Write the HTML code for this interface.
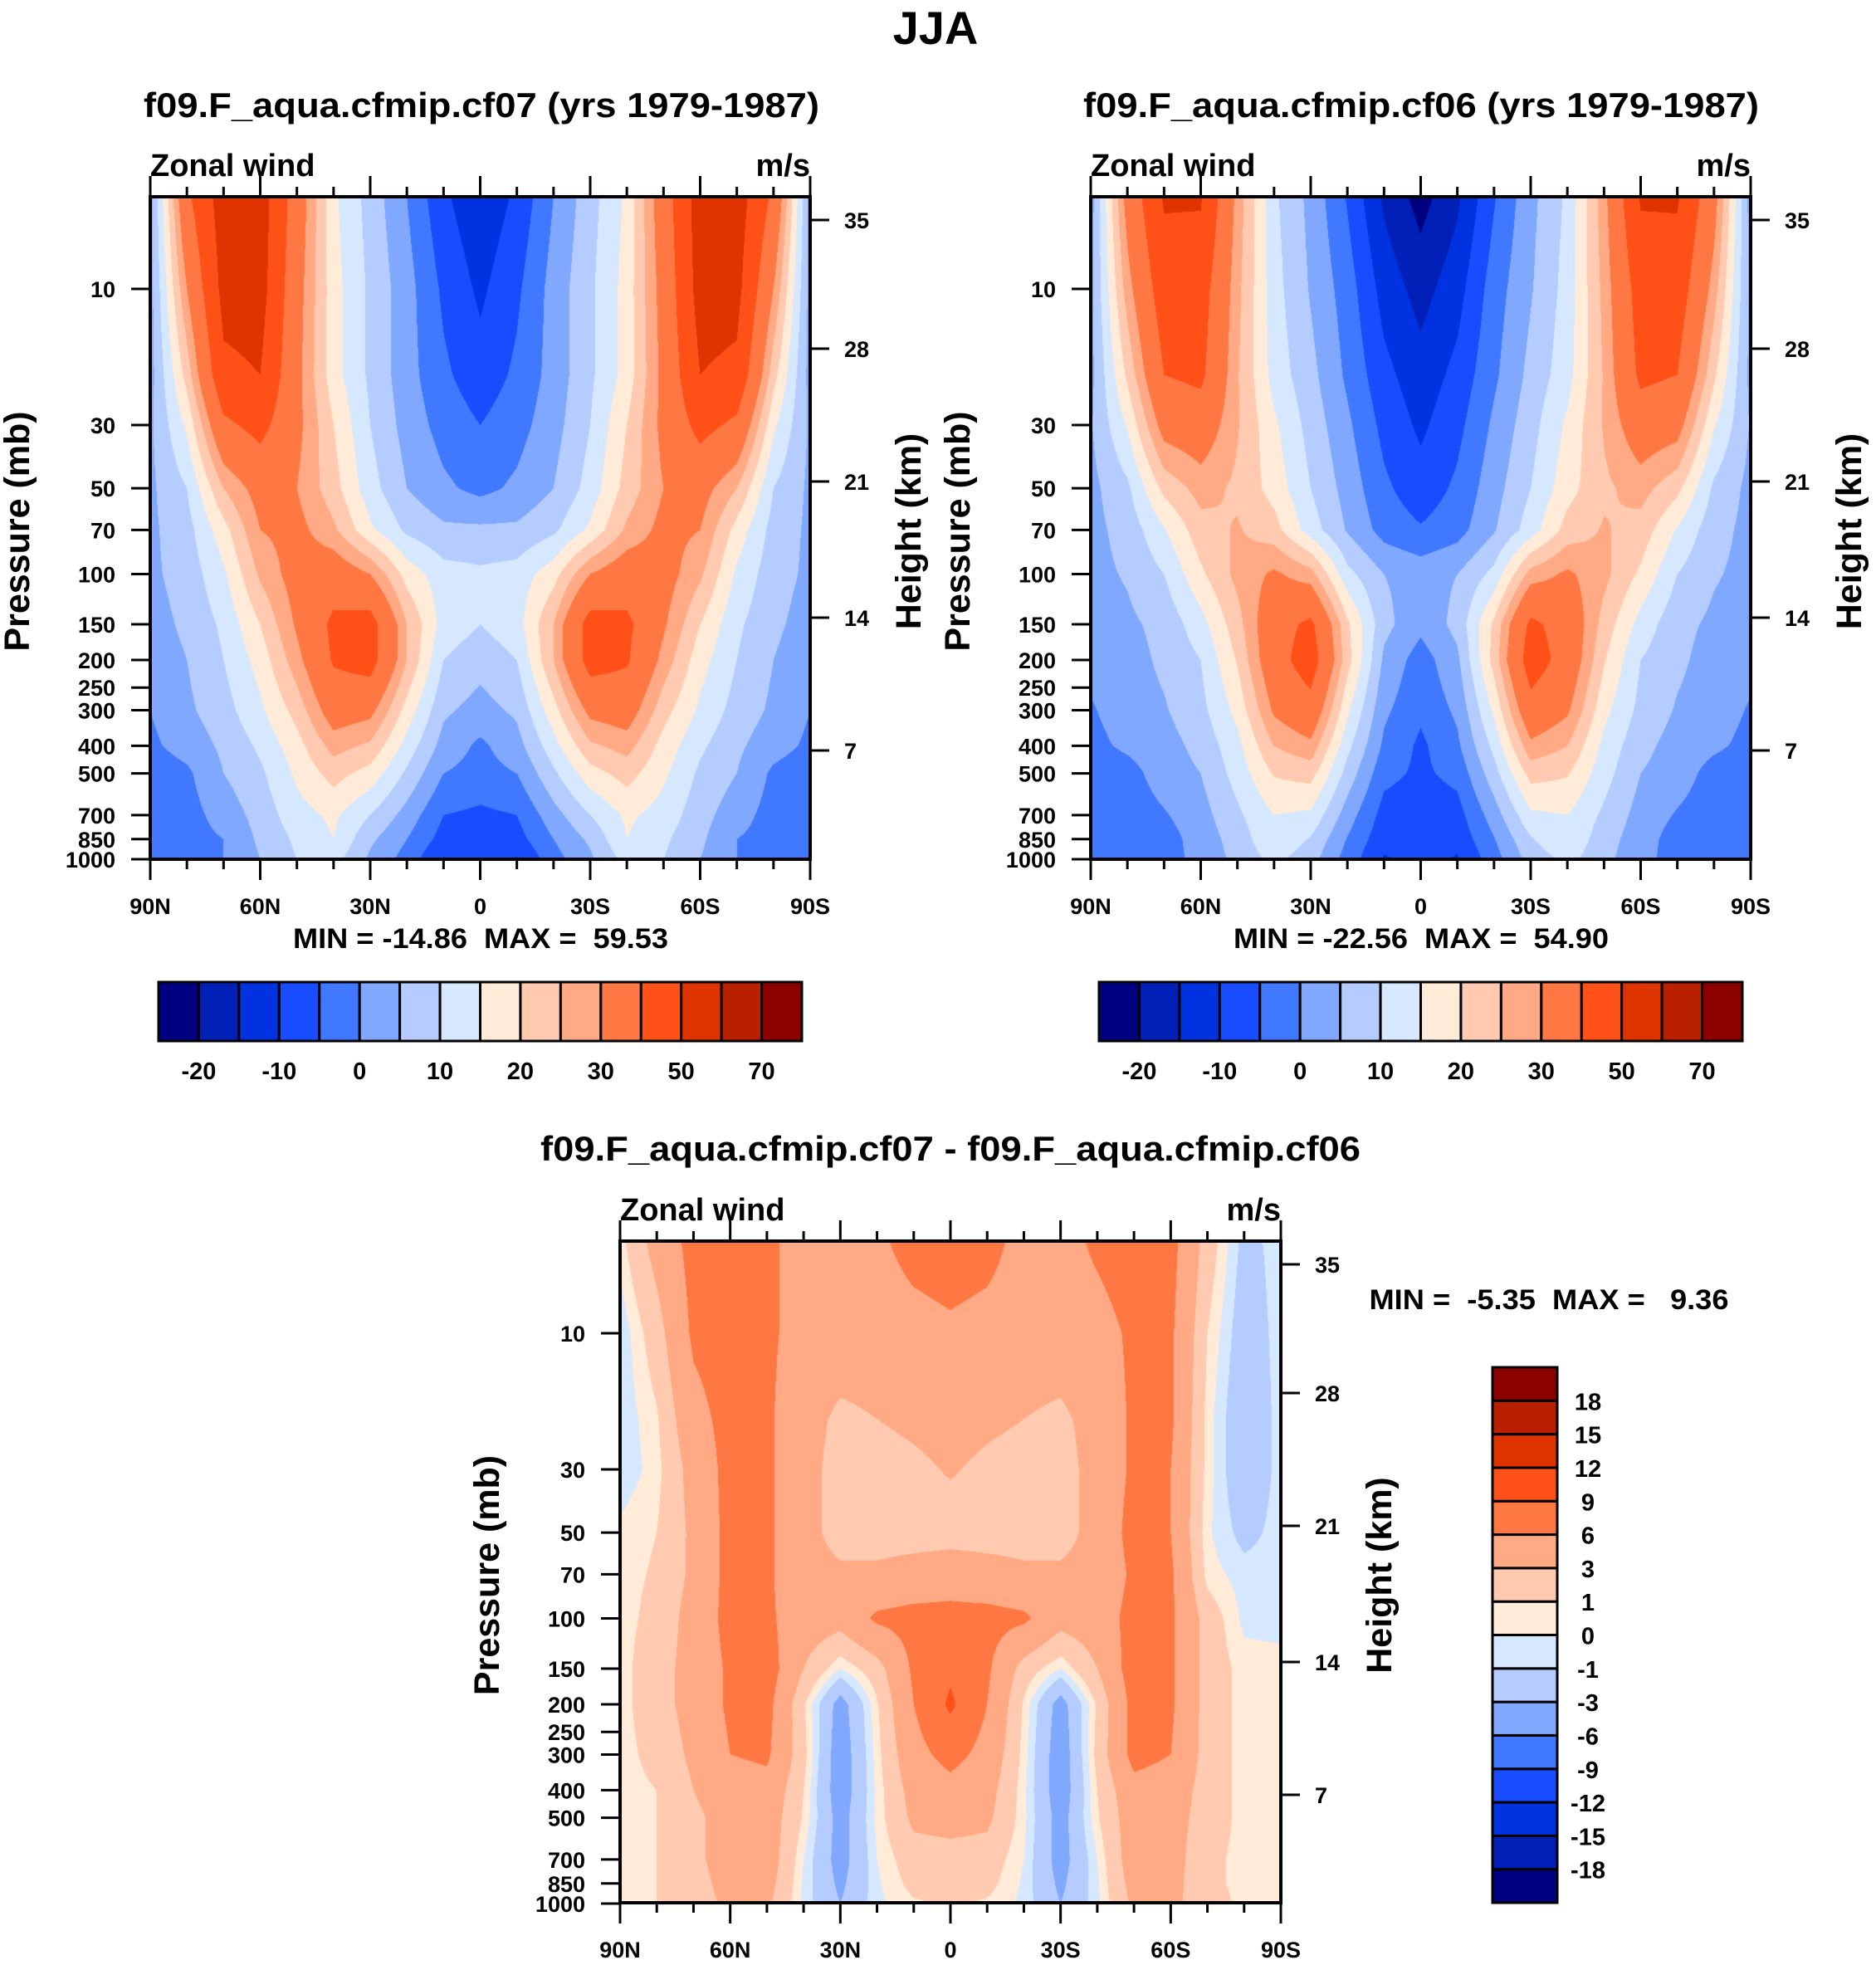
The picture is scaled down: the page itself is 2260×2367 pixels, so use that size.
<!DOCTYPE html>
<html><head><meta charset="utf-8"><style>
html,body{margin:0;padding:0;background:#fff;}
#root{position:relative;width:2260px;height:2367px;overflow:hidden;background:#fff;font-family:"Liberation Sans",Arial,sans-serif;}
canvas{position:absolute;}
svg{position:absolute;left:0;top:0;}
svg text{white-space:pre;}
</style></head><body>
<div id="root">
<canvas id="c1" style="left:181px;top:237px" width="795" height="798"></canvas>
<canvas id="c2" style="left:1314px;top:237px" width="795" height="798"></canvas>
<canvas id="c3" style="left:747px;top:1495px" width="796" height="797"></canvas>
<svg id="ov" width="2260" height="2367" font-family="Liberation Sans, Arial, sans-serif" font-weight="bold">
<text x="1127" y="53" font-size="56" text-anchor="middle">JJA</text>
<text x="580" y="141" font-size="42" text-anchor="middle" textLength="814" lengthAdjust="spacingAndGlyphs">f09.F_aqua.cfmip.cf07 (yrs 1979-1987)</text>
<text x="1712" y="141" font-size="42" text-anchor="middle" textLength="814" lengthAdjust="spacingAndGlyphs">f09.F_aqua.cfmip.cf06 (yrs 1979-1987)</text>
<text x="1145" y="1398" font-size="42" text-anchor="middle" textLength="988" lengthAdjust="spacingAndGlyphs">f09.F_aqua.cfmip.cf07 - f09.F_aqua.cfmip.cf06</text>
<text x="579" y="1142" font-size="34" text-anchor="middle" textLength="452" lengthAdjust="spacingAndGlyphs" xml:space="preserve">MIN = -14.86  MAX =  59.53</text>
<text x="1712" y="1142" font-size="34" text-anchor="middle" textLength="452" lengthAdjust="spacingAndGlyphs" xml:space="preserve">MIN = -22.56  MAX =  54.90</text>
<text x="1866" y="1577" font-size="34" text-anchor="middle" textLength="433" lengthAdjust="spacingAndGlyphs" xml:space="preserve">MIN =  -5.35  MAX =   9.36</text>
</svg>
</div>
<script>
const lats=[90,80,70,60,50,40,30,20,10,0,-10,-20,-30,-40,-50,-60,-70,-80,-90];
const plevs=[4.75,10,20,30,50,70,100,150,200,300,400,500,700,850,1000];
const cf07=[
[3,38,55,55,35,16,8,0,-9,-14,-9,0,8,16,35,55,55,38,3],
[3,30,53,54,33,17,9,2,-6,-11,-6,2,9,17,33,54,53,30,3],
[3,22,48,50,32,17,9,2,-4,-8,-4,2,9,17,32,50,48,22,3],
[4,16,38,43,32,20,10,3,-2,-5,-2,3,10,20,32,43,38,16,4],
[4,10,25,33,30,22,12,5,1,-1.5,1,5,12,22,30,33,25,10,4],
[4,8,18,30,32,26,16,9,6,6,6,9,16,26,32,30,18,8,4],
[4,7,14,26,33,35,30,18,12,11,12,18,30,35,33,26,14,7,4],
[3,6,11,20,31,42,44,25,13,10,13,25,44,42,31,20,11,6,3],
[2,5,10,17,28,41,44,25,10,7,10,25,44,41,28,17,10,5,2],
[0,4,8,14,22,34,32,18,6,3,6,18,32,34,22,14,8,4,0],
[-1,2,6,11,18,27,24,13,3,-1,3,13,24,27,18,11,6,2,-1],
[-3,-1,5,9,16,22,18,9,0,-2,0,9,18,22,16,9,5,-1,-3],
[-3,-2,2,7,13,16,10,3,-5,-6,-5,3,10,16,13,7,2,-2,-3],
[-3,-2,0,6,11,15,6,0,-7,-7,-7,0,6,15,11,6,0,-2,-3],
[-3,-3,0,5,10,12,4,-2,-10.5,-7,-10.5,-2,4,12,10,5,0,-3,-3]];
const cf06=[
[2.5,33,51,51,28,11,3.5,-5.5,-16,-22,-16,-5.5,3.5,11,28,51,51,33,2.5],
[3.5,27.5,45.5,44.5,26.5,12,4.5,-2.5,-12,-17,-12,-2.5,4.5,12,26.5,44.5,45.5,27.5,3.5],
[3.5,21,40,42,25.5,13,6.5,-1,-8.5,-13,-8.5,-1,6.5,13,25.5,42,40,21,3.5],
[4.5,15.5,33,35,25.5,16,8,1,-6.5,-11,-6.5,1,8,16,25.5,35,33,15.5,4.5],
[3.5,9,21.5,27,24,18,10,3,-4,-8,-4,3,10,18,24,27,21.5,9,3.5],
[3.5,6.8,14.5,23,25.5,22,12.5,4.5,-2,-4.5,-2,4.5,12.5,22,25.5,23,14.5,6.8,3.5],
[3.5,5.5,10,19,26.5,31,27,11.5,5,3,5,11.5,27,31,26.5,19,10,5.5,3.5],
[2.5,4,6.5,13,23,36,42,21,6.5,1.5,6.5,21,42,36,23,13,6.5,4,2.5],
[1.5,3,6,10,20.5,36,45,22,4,-2.5,4,22,45,36,20.5,10,6,3,1.5],
[-0.5,2.5,4.5,8.5,16.5,31,36.5,16,1,-4,1,16,36.5,31,16.5,8.5,4.5,2.5,-0.5],
[-1.5,1,3,6.5,13.5,25,28.5,11.5,-1,-6,-1,11.5,28.5,25,13.5,6.5,3,1,-1.5],
[-3.5,-2,2.5,5,12,20.5,22,8,-3.5,-6,-3.5,8,22,20.5,12,5,2.5,-2,-3.5],
[-3.5,-3,-0.5,3,9,15,14,2.5,-7,-8,-7,2.5,14,15,9,3,-0.5,-3,-3.5],
[-3.5,-3,-2.2,2.2,7.2,14.2,9.5,-0.3,-8.5,-8.5,-8.5,-0.3,9.5,14.2,7.2,2.2,-2.2,-3,-3.5],
[-3.5,-4,-2,1.5,6.5,11.5,7,-2.2,-10.5,-8.2,-10.5,-2.2,7,11.5,6.5,1.5,-2,-4,-3.5]];
const diff=[
[0.5,4,7,7.5,6.5,5,4.5,5.5,7,7.5,7,5,5,6.5,7.5,7,2,-1.5,-0.5],
[-0.8,2,6.5,7.5,6.5,5,4.5,4.5,5,5.5,5,4.5,4.5,5,6.5,6.5,1,-2,-0.5],
[-0.8,0.8,5,7,6.5,4,2.5,3,3.5,4,3.5,3,2.5,4,6.5,6.5,0.5,-2.5,-0.5],
[-0.8,0.5,4,7,6.5,4,2,2,2.5,3.2,2.5,2,2,4,6.5,6,0.5,-2.5,-0.5],
[0.3,1,3.5,7,6.5,4,2,2,2,2,2,2,2,4,7,6,0.2,-1.5,-0.5],
[0.5,1.2,3.5,7,6.5,4,3.5,3.5,4,4.5,4,3.5,3.5,4,6.5,6.5,0.5,-0.5,-0.5],
[0.5,1.5,4,7,6.5,4.5,4,6.5,7,7,7,6.5,4,4.5,7,6.5,2,-0.3,-0.5],
[0.5,2,4,6.5,7.5,3,0,2,6.5,8.5,6.5,2,0,3,7.5,6.5,2,0.5,0.5],
[0.5,2,4,6.5,7,1.2,-4,0.8,6,9.5,6,0.8,-4,1.2,7,6.5,2,0.5,0.5],
[0.5,1.5,3.5,6,6.5,1.5,-4.5,0.5,5,7,5,0.5,-4.5,1.5,7,6,2,0.5,0.5],
[0.5,1,3,4.5,5,1,-4.5,0.3,4,5,4,0.3,-4.5,1,5,4.5,2,0.5,0.5],
[0.5,1,2.5,4,4.5,0.8,-4,0.3,3.5,4,3.5,0.3,-4,0.8,4.5,4,2,0.5,0.5],
[0.5,1,2.5,4,4.5,0,-4,0,2,2,2,0,-4,0,4.5,4,1.5,0.5,0.5],
[0.5,1,2.2,3.8,4,-0.2,-3.5,-0.2,1.5,1.5,1.5,-0.2,-3.5,-0.2,4,3.8,1.5,0.5,0.5],
[0.5,1,2,3.5,3.5,-0.3,-3,-0.3,0.8,1.2,0.8,-0.3,-3,-0.3,3.5,3.5,2,0.5,0.5]];
const windLevels=[-20,-15,-10,-5,0,5,10,15,20,25,30,40,50,60,70];
const windLabels=['-20','-10','0','10','20','30','50','70'];
const diffLevels=[-18,-15,-12,-9,-6,-3,-1,0,1,3,6,9,12,15,18];
const diffLabels=['18','15','12','9','6','3','1','0','-1','-3','-6','-9','-12','-15','-18'];
const colors=['#000080','#0020b8','#0032e0','#1a4cff','#4078ff','#80a8ff','#b4ccff','#d6e8ff','#ffebd8','#ffcab0','#ffaa84','#ff7844','#ff5018','#e03400','#b82000','#8c0000'];
const pTicks=[10,30,50,70,100,150,200,250,300,400,500,700,850,1000];
const hTicks=['35','28','21','14','7'];
const hOffsets=[28,183,343,507,667];
const latTicks=['90N','60N','30N','0','30S','60S','90S'];

const NS='http://www.w3.org/2000/svg';
const ov=document.getElementById('ov');
const LOGTOP=Math.log10(4.75), DEC=343.5;
function yOfP(p){return (Math.log10(p)-LOGTOP)*DEC;}
function xOfLat(lat,w){return (90-lat)/180*w;}
function hexRGB(h){return [parseInt(h.substr(1,2),16),parseInt(h.substr(3,2),16),parseInt(h.substr(5,2),16)];}
const rgb=colors.map(hexRGB);
const logp=plevs.map(p=>Math.log10(p));

function sample(data,lat,lp){
  let fi=(90-lat)/10; if(fi<0)fi=0; if(fi>lats.length-1)fi=lats.length-1;
  let i0=Math.min(Math.floor(fi),lats.length-2), tx=fi-i0;
  let j0=0; while(j0<logp.length-2 && lp>logp[j0+1]) j0++;
  let ty=(lp-logp[j0])/(logp[j0+1]-logp[j0]); if(ty<0)ty=0; if(ty>1)ty=1;
  const a=data[j0][i0],b=data[j0][i0+1],c=data[j0+1][i0],d=data[j0+1][i0+1];
  return (a*(1-tx)+b*tx)*(1-ty)+(c*(1-tx)+d*tx)*ty;
}
function render(id,data,levels){
  const cv=document.getElementById(id),ctx=cv.getContext('2d');
  const w=cv.width,h=cv.height,img=ctx.createImageData(w,h);
  for(let y=0;y<h;y++){
    const lp=LOGTOP+(y+0.5)/DEC;
    for(let x=0;x<w;x++){
      const lat=90-180*(x+0.5)/w;
      const v=sample(data,lat,lp);
      let k=0; while(k<levels.length && v>=levels[k]) k++;
      const c=rgb[k],o=(y*w+x)*4;
      img.data[o]=c[0];img.data[o+1]=c[1];img.data[o+2]=c[2];img.data[o+3]=255;
    }
  }
  ctx.putImageData(img,0,0);
}
render('c1',cf07,windLevels);
render('c2',cf06,windLevels);
render('c3',diff,diffLevels);

function line(x1,y1,x2,y2,sw){
  const l=document.createElementNS(NS,'line');
  l.setAttribute('x1',x1);l.setAttribute('y1',y1);l.setAttribute('x2',x2);l.setAttribute('y2',y2);
  l.setAttribute('stroke','#000');l.setAttribute('stroke-width',sw);
  ov.appendChild(l);return l;
}
function text(x,y,s,size,anchor){
  const t=document.createElementNS(NS,'text');
  t.setAttribute('x',x);t.setAttribute('y',y);t.setAttribute('font-size',size);
  t.setAttribute('text-anchor',anchor||'start');t.textContent=s;ov.appendChild(t);return t;
}
function axes(px,py,w,h,prefix){
  const fr=document.createElementNS(NS,'rect');
  fr.setAttribute('x',px);fr.setAttribute('y',py);fr.setAttribute('width',w);fr.setAttribute('height',h);
  fr.setAttribute('fill','none');fr.setAttribute('stroke','#000');fr.setAttribute('stroke-width',4);
  
  
  ov.appendChild(fr);
  for(let lat=90;lat>=-90;lat-=10){
    const x=px+xOfLat(lat,w), major=(lat%30===0), L=major?25:12;
    const t1=line(x,py,x,py-L,3);
    
    
    const t2=line(x,py+h,x,py+h+L,3);
    
    
  }
  latTicks.forEach((s,i)=>{
    const t=text(px+i*w/6,py+h+66,s,27,'middle');
    
    
  });
  pTicks.forEach(p=>{
    const y=py+yOfP(p);
    const tk=line(px,y,px-23,y,3);
    
    
    const t=text(px-42,y+10,String(p),27,'end');
    
    
  });
  hTicks.forEach((s,i)=>{
    const y=py+hOffsets[i];
    const tk=line(px+w,y,px+w+23,y,3);
    
    
    const t=text(px+w+41,y+10,s,27,'start');
    
    
  });
  const zw=text(px,py-25,'Zonal wind',38,'start');
  
  
  const un=text(px+w,py-25,'m/s',38,'end');
  
  
  const cy=py+h*0.5;
  const yl=text(0,0,'Pressure (mb)',43,'middle');
  yl.setAttribute('transform','translate('+(px-146)+','+(cy+4)+') rotate(-90)');
  
  
  const hl=text(0,0,'Height (km)',43,'middle');
  hl.setAttribute('transform','translate('+(px+w+133)+','+(cy+4)+') rotate(-90)');
  
  
}
axes(181,237,795,798,'left-panel');
axes(1314,237,795,798,'right-panel');
axes(747,1495,796,797,'diff-panel');

function hbar(x0,y0,w,h,prefix){
  const bw=w/colors.length;
  colors.forEach((c,i)=>{
    const r=document.createElementNS(NS,'rect');
    r.setAttribute('x',x0+i*bw);r.setAttribute('y',y0);r.setAttribute('width',bw);r.setAttribute('height',h);
    r.setAttribute('fill',c);r.setAttribute('stroke','#000');r.setAttribute('stroke-width',3);
    
    
    ov.appendChild(r);
  });
  windLabels.forEach((s,i)=>{
    const t=text(x0+(1+2*i)*bw,y0+h+46,s,29,'middle');
    
    
  });
}
hbar(191,1183,775,71,'left');
hbar(1324,1183,775,71,'right');

(function(){
  const x0=1798,y0=1647,w=78,h=645,bh=h/colors.length;
  colors.forEach((c,i)=>{
    const r=document.createElementNS(NS,'rect');
    r.setAttribute('x',x0);r.setAttribute('y',y0+(colors.length-1-i)*bh);r.setAttribute('width',w);r.setAttribute('height',bh);
    r.setAttribute('fill',c);r.setAttribute('stroke','#000');r.setAttribute('stroke-width',3);
    
    
    ov.appendChild(r);
  });
  diffLabels.forEach((s,i)=>{
    const t=text(1913,y0+(i+1)*bh+11,s,29,'middle');
    
    
  });
})();
</script>
</body></html>
